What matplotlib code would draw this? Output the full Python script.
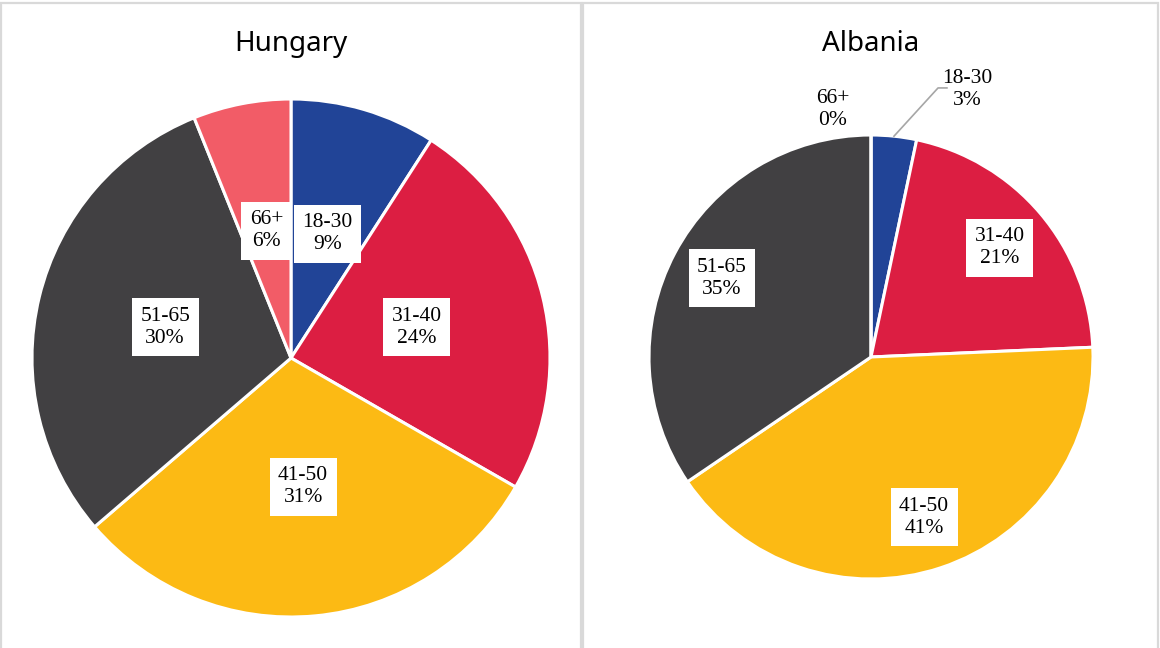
import matplotlib.pyplot as plt
from matplotlib.patches import Rectangle
import numpy as np

# --- data ---
age_groups = ['18-30', '31-40', '41-50', '51-65', '66+']
hungary_share = [9.1, 24.2, 30.4, 30.2, 6.1]
albania_share = [3.3, 21.0, 41.2, 34.5, 0.0]
hungary_pct_labels = ['9%', '24%', '31%', '30%', '6%']
albania_pct_labels = ['3%', '21%', '41%', '35%', '0%']

colors = ['#214497', '#DC1E42', '#FCBA14', '#414042', '#F25C67']

W, H = 1160, 648
fig = plt.figure(figsize=(W / 100, H / 100), dpi=100)

# panel borders
for x0, x1 in [(1, 581), (583, 1158)]:
    fig.patches.append(Rectangle((x0 / W, -0.05), (x1 - x0) / W, (H - 3) / H + 0.05,
                                 transform=fig.transFigure, fill=False,
                                 edgecolor='#D9D9D9', linewidth=1.6))


def pie_axes(cx, cy, r):
    ax = fig.add_axes([(cx - r) / W, (H - cy - r) / H, 2 * r / W, 2 * r / H])
    ax.set_xlim(-1, 1)
    ax.set_ylim(-1, 1)
    ax.axis('off')
    return ax


def draw_pie(ax, values, pct, label_dist, outside=None):
    wedges, _ = ax.pie(values, colors=colors, startangle=90, counterclock=False,
                       radius=1.0, frame=True,
                       wedgeprops=dict(edgecolor='white', linewidth=2.2))
    ax.set_xlim(-1, 1)
    ax.set_ylim(-1, 1)
    ax.axis('off')
    outside = outside or {}
    for i, w in enumerate(wedges):
        txt = f'{age_groups[i]}\n{pct[i]}'
        mid = np.deg2rad((w.theta1 + w.theta2) / 2)
        if i in outside:
            tx, ty, leader = outside[i]
            if leader:
                sx, sy = np.cos(mid), np.sin(mid)
                ax.plot([sx, leader[0], leader[0] + 0.04], [sy, leader[1], leader[1]],
                        color='#A6A6A6', lw=1.2, clip_on=False)
            ax.text(tx, ty, txt, ha='center', va='center', fontsize=15.5,
                    family='Liberation Serif', linespacing=1.22)
        else:
            ax.text(label_dist * np.cos(mid), label_dist * np.sin(mid), txt,
                    ha='center', va='center', fontsize=15.5,
                    family='Liberation Serif', linespacing=1.22,
                    bbox=dict(facecolor='white', edgecolor='none', pad=6))


ax1 = pie_axes(291, 358, 259)
draw_pie(ax1, hungary_share, hungary_pct_labels, 0.50)

ax2 = pie_axes(871, 357, 222)
draw_pie(ax2, albania_share, albania_pct_labels, 0.76,
         outside={0: (0.432, 1.203, (0.302, 1.212)), 4: (-0.171, 1.113, None)})

fig.text(291 / W, 1 - 44 / H, 'Hungary', ha='center', va='center', fontsize=20,
         family='Noto Sans')
fig.text(871 / W, 1 - 44 / H, 'Albania', ha='center', va='center', fontsize=20,
         family='Noto Sans')

fig.savefig('out.png', dpi=100)
